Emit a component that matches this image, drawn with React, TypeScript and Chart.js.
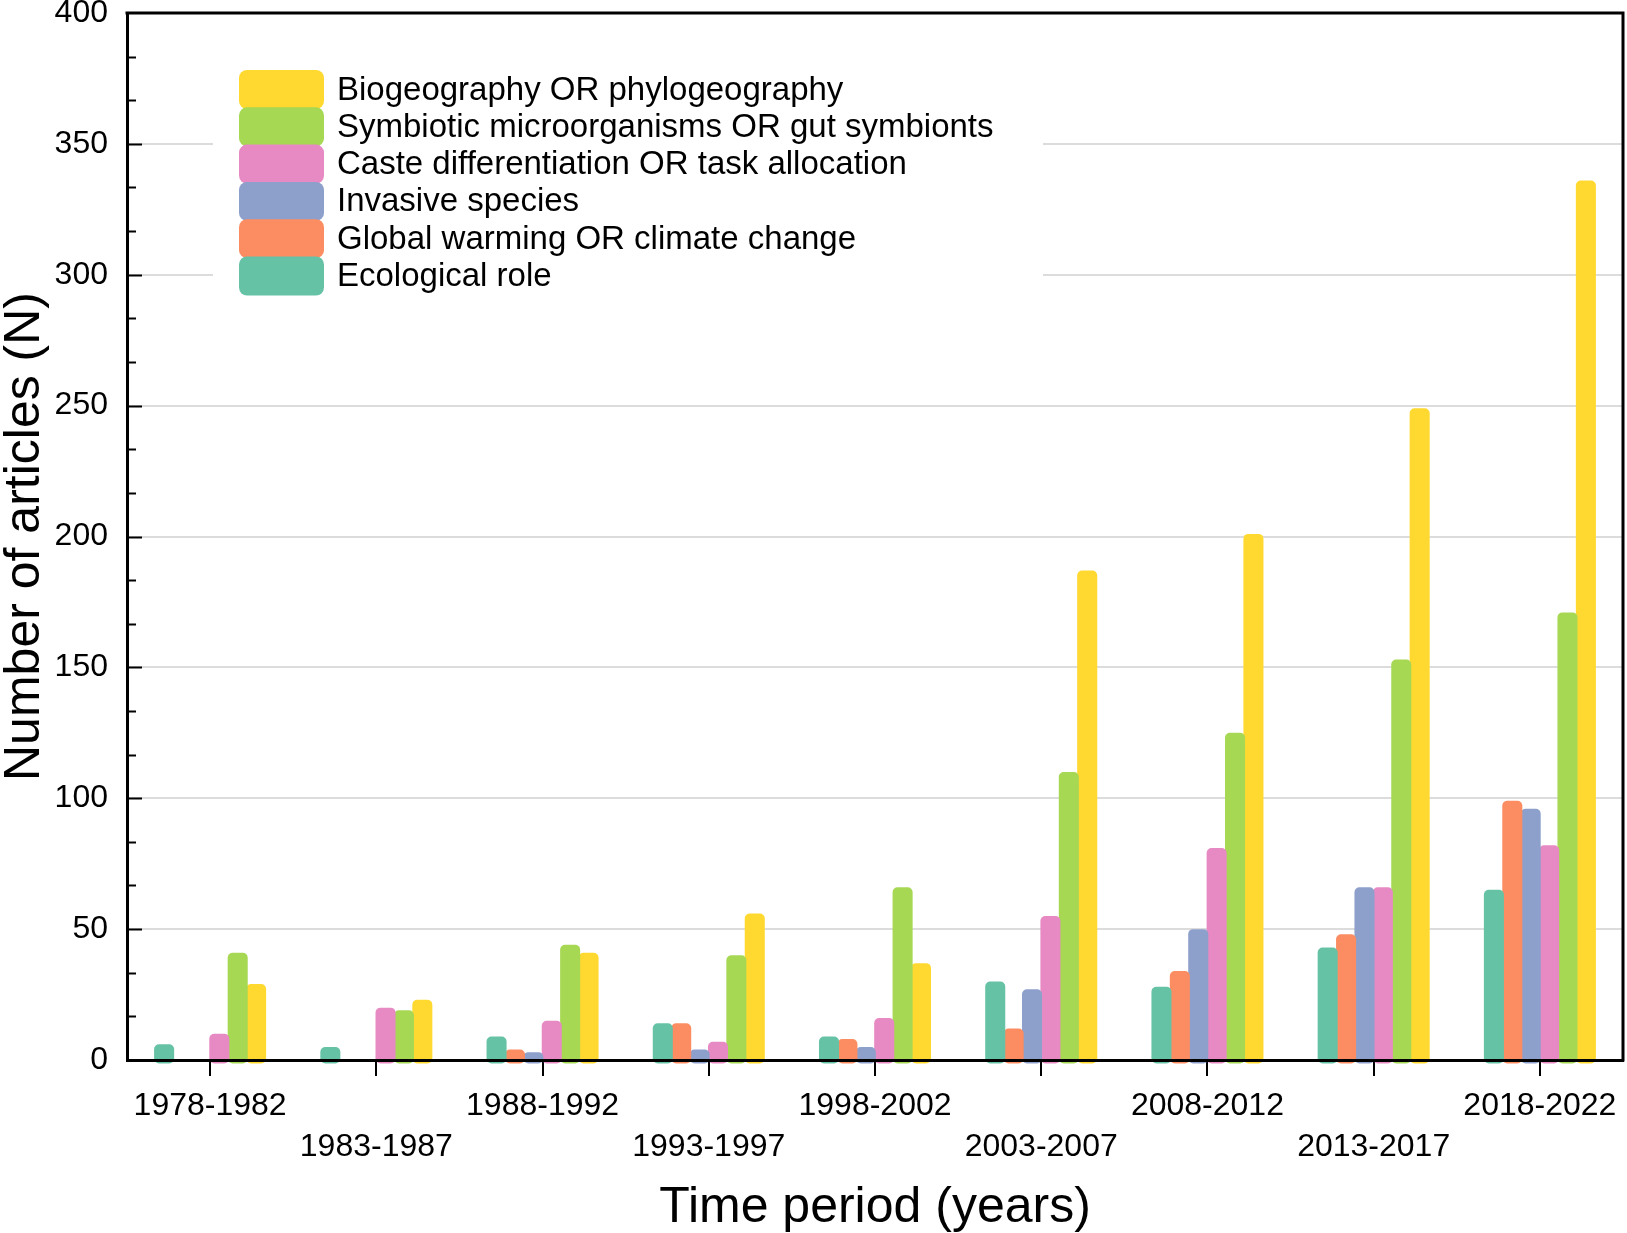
import React, { useEffect, useRef } from 'react';
import { Chart, registerables, Plugin } from 'chart.js';

Chart.register(...registerables);

const FONT = '"Liberation Sans", Arial, Helvetica, sans-serif';

const periods = [
    '1978-1982', '1983-1987', '1988-1992', '1993-1997', '1998-2002',
    '2003-2007', '2008-2012', '2013-2017', '2018-2022',
];

const seriesNames = [
    'Ecological role',
    'Global warming OR climate change',
    'Invasive species',
    'Caste differentiation OR task allocation',
    'Symbiotic microorganisms OR gut symbionts',
    'Biogeography OR phylogeography',
];

const seriesColors = ['#66c2a5', '#fc8d62', '#8da0cb', '#e78ac3', '#a6d854', '#ffd92f'];

// articles per period, one array per search term
const ecologicalRole = [6, 5, 9, 14, 9, 30, 28, 43, 65];
const globalWarming = [null, null, 4, 14, 8, 12, 34, 48, 99];
const invasiveSpecies = [null, null, 3, 4, 5, 27, 50, 66, 96];
const casteDifferentiation = [10, 20, 15, 7, 16, 55, 81, 66, 82];
const symbioticMicroorganisms = [41, 19, 44, 40, 66, 110, 125, 153, 171];
const biogeography = [29, 23, 41, 56, 37, 187, 201, 249, 336];

const yMin = 0;
const yMax = 400;
const yStep = 50;
const yMinorPerStep = 3;

// white box legend drawn inside the plot, top entry = last dataset
const boxLegend: Plugin<'bar'> = {
    id: 'boxLegend',
    afterDraw(chart) {
        const { ctx } = chart;
        ctx.save();
        ctx.fillStyle = '#ffffff';
        ctx.fillRect(213, 52, 830, 258);
        const items = chart.data.datasets.slice().reverse();
        items.forEach((ds, i) => {
            const cy = 89.5 + i * 37.3;
            ctx.fillStyle = ds.backgroundColor as string;
            ctx.beginPath();
            ctx.roundRect(239, cy - 19.5, 85, 39, 8);
            ctx.fill();
        });
        ctx.fillStyle = '#000000';
        ctx.font = `33px ${FONT}`;
        ctx.textBaseline = 'middle';
        ctx.textAlign = 'left';
        items.forEach((ds, i) => {
            ctx.fillText(ds.label as string, 337, 90.5 + i * 37.3);
        });
        ctx.restore();
    },
};

// frame on top/right plus inward y tick marks (major and minor)
const frameAndTicks: Plugin<'bar'> = {
    id: 'frameAndTicks',
    afterDraw(chart) {
        const { ctx, chartArea } = chart;
        const y = chart.scales.y;
        ctx.save();
        ctx.strokeStyle = '#000000';
        ctx.lineWidth = 3;
        ctx.beginPath();
        ctx.moveTo(chartArea.left - 1.5, chartArea.top);
        ctx.lineTo(chartArea.right, chartArea.top);
        ctx.lineTo(chartArea.right, chartArea.bottom + 1.5);
        ctx.stroke();

        ctx.lineWidth = 2;
        const minor = yStep / yMinorPerStep;
        for (let k = 1; k < ((yMax - yMin) / minor); k++) {
            const py = Math.round(y.getPixelForValue(yMin + k * minor)) + 0.5;
            const len = k % yMinorPerStep === 0 ? 15 : 9;
            ctx.beginPath();
            ctx.moveTo(chartArea.left, py);
            ctx.lineTo(chartArea.left + len, py);
            ctx.stroke();
        }
        ctx.restore();
    },
};

function ArticlesChart() {
    const canvasRef = useRef<HTMLCanvasElement>(null);
    const chartRef = useRef<Chart | null>(null);

    useEffect(() => {
        if (!canvasRef.current) return;
        if (chartRef.current) chartRef.current.destroy();

        const values = [
            ecologicalRole, globalWarming, invasiveSpecies,
            casteDifferentiation, symbioticMicroorganisms, biogeography,
        ];

        chartRef.current = new Chart(canvasRef.current, {
            type: 'bar',
            data: {
                labels: periods,
                datasets: values.map((v, i) => ({
                    label: seriesNames[i],
                    data: v,
                    backgroundColor: seriesColors[i],
                    borderWidth: 0,
                    borderRadius: 5,
                    borderSkipped: false,
                    base: -1.3,
                    clip: false as any,
                    categoryPercentage: 0.664,
                    barPercentage: 1.09,
                })),
            },
            options: {
                animation: false,
                responsive: true,
                maintainAspectRatio: false,
                layout: { padding: { top: 13, right: 4, left: 0, bottom: 0 } },
                plugins: {
                    legend: { display: false },
                    tooltip: { enabled: false },
                },
                scales: {
                    x: {
                        afterFit: (scale) => {
                            scale.height = 173;
                            scale.paddingLeft = 0;
                            scale.paddingRight = 0;
                        },
                        grid: {
                            drawOnChartArea: false,
                            drawTicks: true,
                            tickLength: 16,
                            color: '#000000',
                            lineWidth: 2,
                            offset: false,
                        },
                        border: { display: true, color: '#000000', width: 3, z: 1 },
                        ticks: {
                            color: '#000000',
                            padding: 9,
                            maxRotation: 0,
                            autoSkip: false,
                            font: { family: FONT, size: 32, lineHeight: 1.3 },
                            callback: (_v, i) => (i % 2 === 0 ? periods[i] : ['', periods[i]]),
                        },
                        title: {
                            display: true,
                            text: 'Time period (years)',
                            color: '#000000',
                            font: { family: FONT, size: 50, lineHeight: 1.0 },
                            padding: { top: 0, bottom: 0 },
                        },
                    },
                    y: {
                        min: yMin,
                        max: yMax,
                        afterFit: (scale) => {
                            scale.width = 127;
                            scale.paddingTop = 0;
                            scale.paddingBottom = 0;
                        },
                        grid: {
                            drawTicks: false,
                            lineWidth: 2,
                            color: (c) => (c.tick && (c.tick.value === yMin || c.tick.value === yMax) ? 'rgba(0,0,0,0)' : '#dcdcdc'),
                        },
                        border: { display: true, color: '#000000', width: 3, z: 1 },
                        ticks: {
                            stepSize: yStep,
                            color: '#000000',
                            padding: 19,
                            font: { family: FONT, size: 32 },
                        },
                        title: {
                            display: true,
                            text: 'Number of articles (N)',
                            color: '#000000',
                            font: { family: FONT, size: 50, lineHeight: 1.0 },
                            padding: { top: 0, bottom: 0 },
                        },
                    },
                },
            },
            plugins: [boxLegend, frameAndTicks],
        });

        return () => {
            if (chartRef.current) {
                chartRef.current.destroy();
                chartRef.current = null;
            }
        };
    }, []);

    return <canvas ref={canvasRef} />;
}

export default function App() {
    return (
        <div style={{ position: 'absolute', left: 0, top: 0, width: 1627, height: 1233, background: '#ffffff' }}>
            <ArticlesChart />
        </div>
    );
}
